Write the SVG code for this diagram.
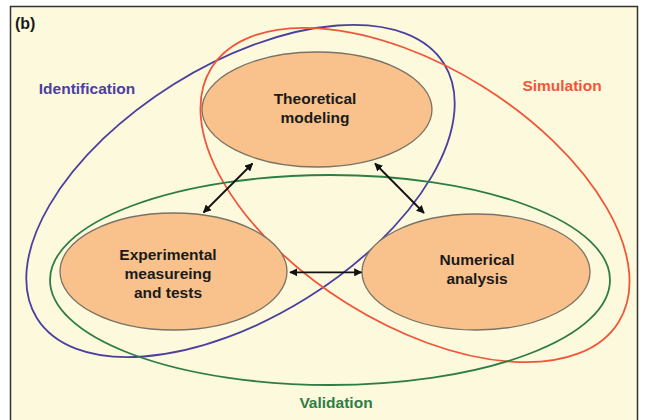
<svg xmlns="http://www.w3.org/2000/svg" width="647" height="420" viewBox="0 0 647 420">
  <style>
    .lbl { font-family: "Liberation Sans", Arial, sans-serif; font-weight: bold; font-size: 15.5px; text-anchor: middle; }
    .node ellipse { fill: #f9c28c; stroke: #7a7266; stroke-width: 1.3; }
    .node text { fill: #1a1a1a; }
    .loop { fill: none; stroke-width: 1.8; }
    .conn { stroke: #111; stroke-width: 1.8; fill: none; marker-start: url(#ah); marker-end: url(#ah); }
  </style>
  <defs>
    <marker id="ah" viewBox="0 0 10 10" refX="9" refY="5" markerWidth="4.5" markerHeight="4.5" orient="auto-start-reverse" markerUnits="strokeWidth">
      <path d="M0,0 L10,5 L0,10 z" fill="#111"/>
    </marker>
  </defs>
  <rect x="0" y="0" width="647" height="420" fill="#ffffff"/>
  <rect x="10.5" y="6.5" width="627" height="420" fill="#fdf9dc" stroke="#333" stroke-width="1.5"/>
  <text x="15" y="29" class="lbl" style="text-anchor:start;font-size:16px" fill="#1a1a1a">(b)</text>

  <g id="identification">
    <ellipse class="loop" cx="240.5" cy="191" rx="240" ry="126" transform="rotate(-32 240.5 191)" stroke="#4b3f9f"/>
    <text x="87" y="94" class="lbl" fill="#4b3f9f">Identification</text>
  </g>
  <g id="simulation">
    <ellipse class="loop" cx="415" cy="195" rx="240" ry="128" transform="rotate(32 415 195)" stroke="#f0563a"/>
    <text x="562" y="91" class="lbl" fill="#f0563a">Simulation</text>
  </g>
  <g id="validation">
    <ellipse class="loop" cx="330" cy="280" rx="280" ry="105" stroke="#2e7d46"/>
    <text x="336" y="408" class="lbl" fill="#2e7d46">Validation</text>
  </g>

  <g id="theoretical" class="node">
    <ellipse cx="317" cy="109.5" rx="115" ry="57.5"/>
    <text x="315" y="104" class="lbl">Theoretical</text>
    <text x="315" y="123" class="lbl">modeling</text>
  </g>
  <g id="experimental" class="node">
    <ellipse cx="173.5" cy="271.5" rx="113.5" ry="58.5"/>
    <text x="168" y="260" class="lbl">Experimental</text>
    <text x="168" y="278.5" class="lbl">measureing</text>
    <text x="168" y="298" class="lbl">and tests</text>
  </g>
  <g id="numerical" class="node">
    <ellipse cx="476" cy="272" rx="114" ry="58"/>
    <text x="477" y="265" class="lbl">Numerical</text>
    <text x="477" y="283.5" class="lbl">analysis</text>
  </g>

  <g id="connectors">
    <line class="conn" x1="252.5" y1="163.5" x2="203.5" y2="212.5"/>
    <line class="conn" x1="375" y1="163.5" x2="424" y2="213"/>
    <line class="conn" x1="290" y1="272.3" x2="361.5" y2="272.3"/>
  </g>
</svg>
